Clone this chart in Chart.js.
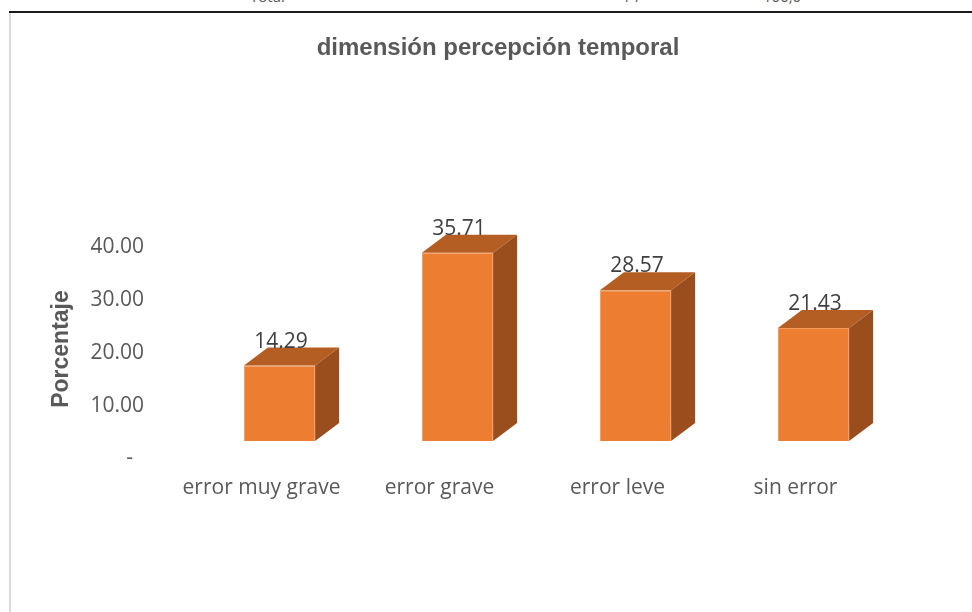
<!DOCTYPE html>
<html>
<head>
<meta charset="utf-8">
<script src="https://cdn.jsdelivr.net/npm/chart.js@4/dist/chart.umd.min.js"></script>
<style>
  html, body { margin: 0; padding: 0; background: #fff; }
  #wrap { position: relative; width: 972px; height: 612px; overflow: hidden; }
  #chart { position: absolute; left: 0; top: 0; }
  .rule-top { position: absolute; left: 9px; top: 11px; width: 963px; height: 2px; background: #1a1a1a; }
  .rule-left { position: absolute; left: 9px; top: 13px; width: 2px; height: 599px; background: #d9d9d9; }
  .cut { position: absolute; top: -11px; font: 15px/15px 'Open Sans', sans-serif; color: #595959; }
</style>
</head>
<body>
<div id="wrap">
  <span class="cut" style="left:250px">Total</span>
  <span class="cut" style="left:622px">14</span>
  <span class="cut" style="left:763px">100,0</span>
  <canvas id="chart" width="972" height="612"></canvas>
  <div class="rule-top"></div>
  <div class="rule-left"></div>
</div>
<script>
  // categories and percentages
  var categories = ['error muy grave', 'error grave', 'error leve', 'sin error'];
  var percentages = [14.29, 35.71, 28.57, 21.43];
  var yTicks = [0, 10, 20, 30, 40];

  var FRONT = '#ED7D31';
  var TOP = '#B55E23';
  var SIDE = '#9A4E1D';
  var DEPTH_X = 24;
  var DEPTH_Y = 18;

  // fake the Excel 3D look: top + side faces, value labels, titles
  var boxes3d = {
    id: 'boxes3d',
    afterDatasetsDraw: function (chart) {
      var ctx = chart.ctx;
      var meta = chart.getDatasetMeta(0);
      ctx.save();
      meta.data.forEach(function (bar, i) {
        var left = bar.x - bar.width / 2;
        var right = bar.x + bar.width / 2;

        ctx.fillStyle = TOP;
        ctx.beginPath();
        ctx.moveTo(left, bar.y);
        ctx.lineTo(left + DEPTH_X, bar.y - DEPTH_Y);
        ctx.lineTo(right + DEPTH_X, bar.y - DEPTH_Y);
        ctx.lineTo(right, bar.y);
        ctx.closePath();
        ctx.fill();

        ctx.fillStyle = SIDE;
        ctx.beginPath();
        ctx.moveTo(right, bar.y);
        ctx.lineTo(right + DEPTH_X, bar.y - DEPTH_Y);
        ctx.lineTo(right + DEPTH_X, bar.base - DEPTH_Y);
        ctx.lineTo(right, bar.base);
        ctx.closePath();
        ctx.fill();

        ctx.fillStyle = '#404040';
        ctx.font = '21px "Open Sans"';
        ctx.textAlign = 'center';
        ctx.textBaseline = 'middle';
        ctx.fillText(percentages[i].toFixed(2), bar.x + 1.5, bar.y - 24);
      });

      // chart title, centred on the whole frame rather than the plot
      ctx.fillStyle = '#595959';
      ctx.font = 'bold 24px "Liberation Sans"';
      ctx.textAlign = 'center';
      ctx.textBaseline = 'alphabetic';
      ctx.fillText('dimensión percepción temporal', 498, 55);

      // axis title sits a bit lower than the plot middle in the original
      ctx.translate(68, 349);
      ctx.rotate(-Math.PI / 2);
      ctx.font = 'bold 23px "Liberation Sans"';
      ctx.fillText('Porcentaje', 0, 0);
      ctx.restore();
    }
  };

  new Chart(document.getElementById('chart'), {
    type: 'bar',
    data: {
      labels: categories,
      datasets: [{
        data: percentages,
        backgroundColor: FRONT,
        borderColor: '#F39A5C',
        borderWidth: 1,
        barPercentage: 0.4,
        categoryPercentage: 1
      }]
    },
    options: {
      responsive: false,
      animation: false,
      layout: { padding: { left: 0, right: 69.5, top: 230, bottom: 0 } },
      plugins: {
        legend: { display: false },
        tooltip: { enabled: false },
        title: { display: false }
      },
      scales: {
        x: {
          grid: { display: false, drawTicks: false },
          border: { display: false },
          ticks: {
            color: '#595959',
            font: { family: 'Open Sans', size: 21 },
            padding: 34,
            labelOffset: -18,
            maxRotation: 0
          },
          afterFit: function (scale) { scale.height = 171; }
        },
        y: {
          min: 0,
          max: 40,
          grid: { display: false, drawTicks: false },
          border: { display: false },
          afterBuildTicks: function (scale) {
            scale.ticks = yTicks.map(function (v) { return { value: v }; });
          },
          ticks: {
            color: '#595959',
            font: { family: 'Open Sans', size: 21 },
            padding: 46.5,
            labelOffset: 17.5,
            callback: function (v) { return v === 0 ? '-  ' : v.toFixed(2); }
          },
          afterFit: function (scale) { scale.width = 190.5; }
        }
      }
    },
    plugins: [boxes3d]
  });
</script>
</body>
</html>
